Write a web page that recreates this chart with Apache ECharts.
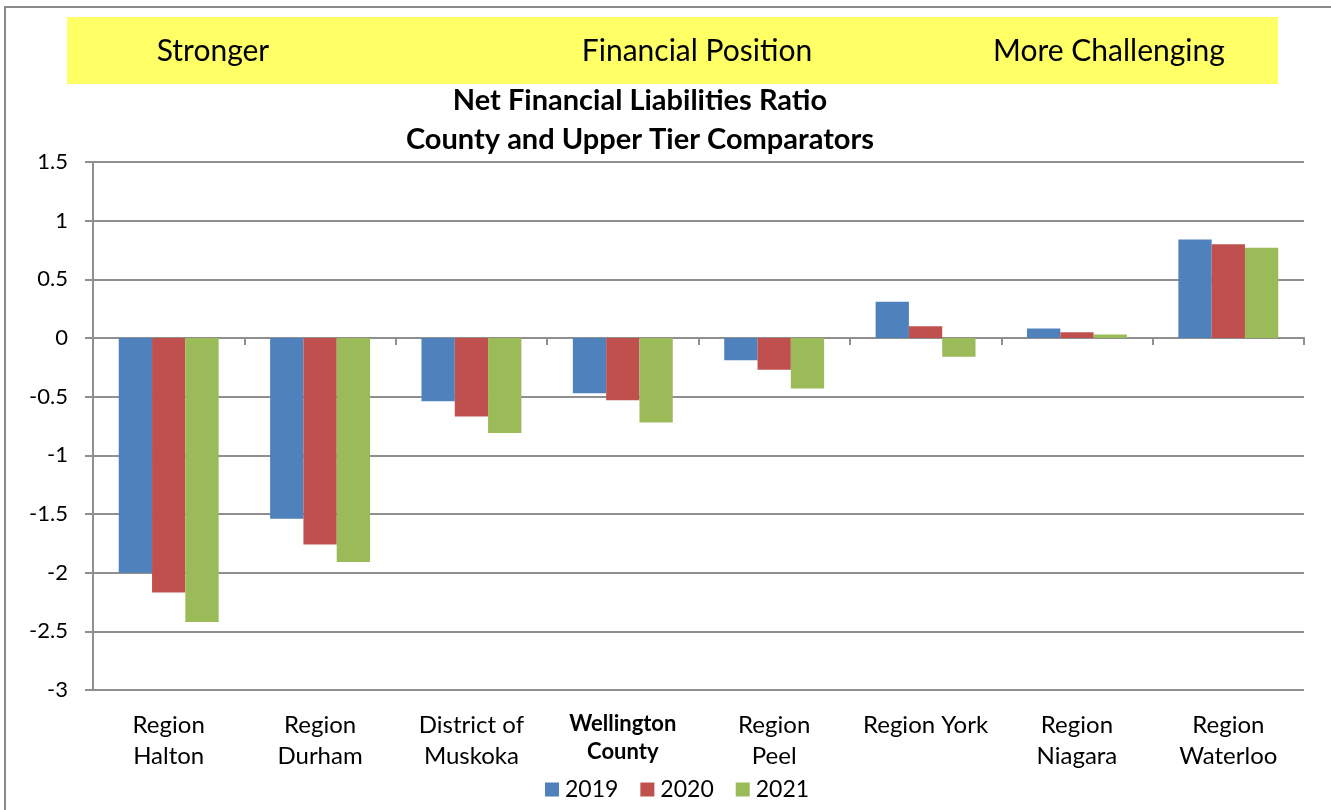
<!DOCTYPE html>
<html>
<head>
<meta charset="utf-8">
<script src="https://cdn.jsdelivr.net/npm/echarts@6/dist/echarts.min.js"></script>
<style>
html,body{margin:0;padding:0;background:#fff;}
#chart{width:1331px;height:810px;}
</style>
</head>
<body>
<div id="chart"></div>
<script>
var categories = ['Region\nHalton', 'Region\nDurham', 'District of\nMuskoka', 'Wellington\nCounty', 'Region\nPeel', 'Region York', 'Region\nNiagara', 'Region\nWaterloo'];
var seriesNames = ['2019', '2020', '2021'];
var values2019 = [-2.00, -1.54, -0.54, -0.47, -0.19, 0.31, 0.08, 0.84];
var values2020 = [-2.17, -1.76, -0.67, -0.53, -0.27, 0.10, 0.05, 0.80];
var values2021 = [-2.42, -1.91, -0.81, -0.72, -0.43, -0.16, 0.03, 0.77];
var yTicks = {min: -3, max: 1.5, interval: 0.5};
var bannerTexts = ['Stronger', 'Financial Position', 'More Challenging'];
var titleLines = ['Net Financial Liabilities Ratio', 'County and Upper Tier Comparators'];
var colors = ['#4F81BD', '#C0504D', '#9BBB59'];

var FONT = 'Lato, "Open Sans", sans-serif';
var chart = echarts.init(document.getElementById('chart'), null, {renderer: 'canvas'});
var gridColor = '#8f8f8f';

var option = {
  animation: false,
  backgroundColor: '#ffffff',
  color: colors,
  textStyle: {fontFamily: FONT, color: '#000'},
  grid: {left: 93, right: 27, top: 162, bottom: 120, containLabel: false},
  graphic: [
    {type: 'rect', z: -10, shape: {x: 5, y: 7, width: 1400, height: 900}, style: {fill: 'none', stroke: '#8a8a8a', lineWidth: 2}},
    {type: 'rect', z: 0, shape: {x: 67, y: 17, width: 1211, height: 67}, style: {fill: '#FFFF66'}},
    {type: 'text', x: 213, y: 51, style: {text: bannerTexts[0], font: '30px ' + FONT, fill: '#000', align: 'center', verticalAlign: 'middle'}},
    {type: 'text', x: 697, y: 51, style: {text: bannerTexts[1], font: '30px ' + FONT, fill: '#000', align: 'center', verticalAlign: 'middle'}},
    {type: 'text', x: 1109, y: 51, style: {text: bannerTexts[2], font: '30px ' + FONT, fill: '#000', align: 'center', verticalAlign: 'middle'}},
    {type: 'text', x: 640, y: 101, style: {text: titleLines[0], font: 'bold 29px ' + FONT, fill: '#000', align: 'center', verticalAlign: 'middle'}},
    {type: 'text', x: 640, y: 140, style: {text: titleLines[1], font: 'bold 29px ' + FONT, fill: '#000', align: 'center', verticalAlign: 'middle'}}
  ],
  legend: {
    data: seriesNames,
    left: 545,
    top: 778,
    padding: 0,
    itemWidth: 14,
    itemHeight: 14,
    itemGap: 22,
    icon: 'rect',
    textStyle: {fontSize: 23, fontFamily: FONT, color: '#000', padding: [0, 0, 0, 1]}
  },
  xAxis: [
    {
      type: 'category',
      data: categories,
      position: 'bottom',
      axisLine: {show: false, onZero: false},
      axisTick: {show: false},
      axisLabel: {
        margin: 20,
        interval: 0,
        fontSize: 24,
        lineHeight: 31,
        fontFamily: FONT,
        color: '#000',
        formatter: function (v) {
          if (v.indexOf('Wellington') === 0) {
            return v.split('\n').map(function (s) { return '{b|' + s + '}'; }).join('\n');
          }
          return v;
        },
        rich: {
          b: {fontSize: 22, fontWeight: 'bold', lineHeight: 28, fontFamily: FONT, color: '#000'}
        }
      }
    },
    {
      type: 'category',
      data: categories,
      position: 'bottom',
      axisLine: {show: true, onZero: true, lineStyle: {color: gridColor, width: 2}},
      axisTick: {show: true, length: 7, inside: false, lineStyle: {color: gridColor, width: 2}},
      axisLabel: {show: false},
      splitLine: {show: false}
    }
  ],
  yAxis: {
    type: 'value',
    min: yTicks.min,
    max: yTicks.max,
    interval: yTicks.interval,
    axisLine: {show: true, lineStyle: {color: gridColor, width: 2}},
    axisTick: {show: true, length: 8, lineStyle: {color: gridColor, width: 2}},
    axisLabel: {fontSize: 22, fontFamily: FONT, color: '#000', margin: 25},
    splitLine: {show: true, lineStyle: {color: gridColor, width: 2}}
  },
  series: [
    {name: seriesNames[0], type: 'bar', xAxisIndex: 0, data: values2019, barGap: '0%', barCategoryGap: '34%', itemStyle: {color: colors[0]}},
    {name: seriesNames[1], type: 'bar', xAxisIndex: 0, data: values2020, barGap: '0%', barCategoryGap: '34%', itemStyle: {color: colors[1]}},
    {name: seriesNames[2], type: 'bar', xAxisIndex: 0, data: values2021, barGap: '0%', barCategoryGap: '34%', itemStyle: {color: colors[2]}}
  ]
};
chart.setOption(option);
</script>
</body>
</html>
